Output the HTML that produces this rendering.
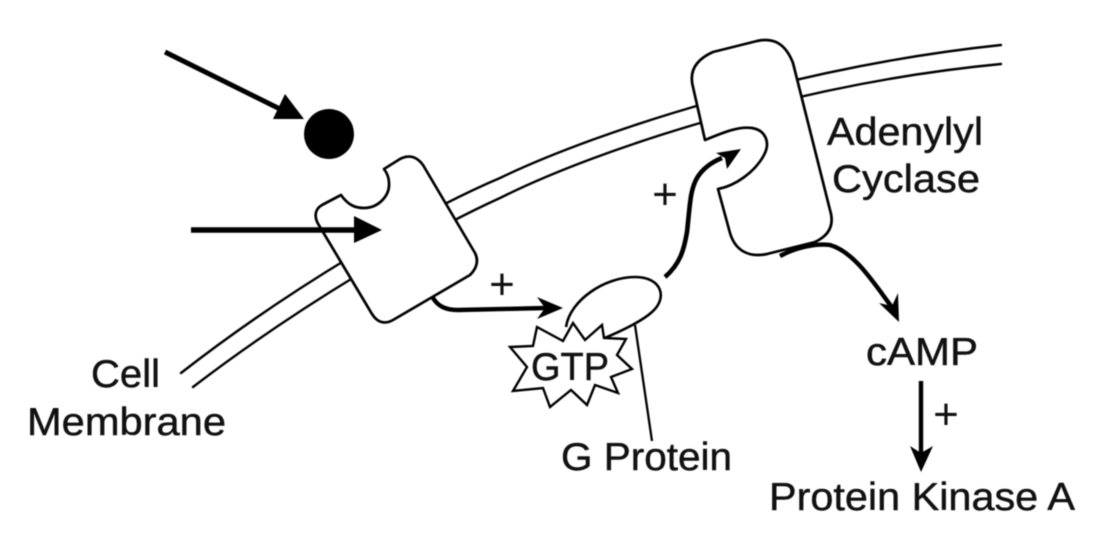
<!DOCTYPE html>
<html>
<head>
<meta charset="utf-8">
<style>
html,body{margin:0;padding:0;background:#fff;width:1105px;height:533px;overflow:hidden}
svg{display:block;filter:blur(0.5px)}
text{font-family:"Liberation Sans",sans-serif;fill:#111;stroke:#111;stroke-width:0.45px}
text.p{stroke:none}
</style>
</head>
<body>
<svg width="1105" height="533" viewBox="0 0 1105 533" xmlns="http://www.w3.org/2000/svg">
<rect width="1105" height="533" fill="#fff"/>
<!-- membrane -->
<g fill="none" stroke="#000" stroke-width="2.4" stroke-linecap="round">
<path d="M181 373 C290 288 420 212 500 178 C600 130 800 66 1001 45"/>
<path d="M193 387 C300 305 425 232 500 198 C600 148 800 83 1001 64"/>
</g>
<!-- receptor -->
<path d="M341 195 C348 205 355 208 364 208 C378 208 390 196 389 183 C389 177 387 173 384 169 L400 159 C410 154 417 157 423 165 L475 253 C479 261 477 268 470 275 L393 320 C384 325 377 322 372 314 L320 227 C313 217 315 209 322 205 Z" fill="#fff" stroke="#000" stroke-width="2.7" stroke-linejoin="round"/>
<!-- adenylyl cyclase -->
<path d="M705 140 L693 87 C689 72 695 60 713 52 L757 41 C775 37 786 45 793 63 L830 210 C835 226 828 236 815 242 L767 254 C748 258 735 250 730 233 L718 189 C735 186 755 172 764 155 C771 142 765 130 752 128 C738 126 722 133 705 140 Z" fill="#fff" stroke="#000" stroke-width="2.7" stroke-linejoin="round"/>
<!-- G protein -->
<path d="M566 327 C570 300 605 277 635 277 C662 277 668 298 652 312 C640 323 612 335 600 340" fill="#fff" stroke="#000" stroke-width="2.6"/>
<line x1="635" y1="325" x2="652" y2="441" stroke="#000" stroke-width="2.3"/>
<!-- GTP star -->
<polygon points="537,327 563,341 573,323 585,340 602,325 604,338 626,339 617,355 632,369 611,377 618,393 595,385 587,405 571,390 550,407 543,388 513,391 527,367 510,347 533,346" fill="#fff" stroke="#000" stroke-width="2.4" stroke-linejoin="miter"/>
<!-- black arrows -->
<circle cx="329" cy="134" r="25" fill="#000"/>
<line x1="165" y1="52" x2="286" y2="112" stroke="#000" stroke-width="5"/>
<polygon points="285,94 304,119 273,119" fill="#000"/>
<line x1="191" y1="230" x2="356" y2="230" stroke="#000" stroke-width="5.5"/>
<polygon points="354,216 382,230 354,243" fill="#000"/>
<!-- receptor to G protein -->
<path d="M433 298 C438 306 445 310 458 310 L546 308" fill="none" stroke="#000" stroke-width="4.4"/>
<polygon points="537,297 563,308 537,319 545,308" fill="#000"/>
<!-- G protein to AC -->
<path d="M665 277 C680 264 684 250 687 232 C690 205 690 190 697 178 C703 168 712 162 722 158" fill="none" stroke="#000" stroke-width="4.6"/>
<polygon points="741,149 727,169 725,158 716,153" fill="#000"/>
<!-- AC to cAMP -->
<path d="M780 256 C795 248 815 243 830 245 C855 252 875 285 894 310" fill="none" stroke="#000" stroke-width="4.4"/>
<polygon points="899,322 879,303 892,306 898,293" fill="#000"/>
<!-- cAMP to PKA -->
<line x1="921" y1="381" x2="921" y2="456" stroke="#000" stroke-width="4.4"/>
<polygon points="910,446 921,453 933,446 921,472" fill="#000"/>
<!-- labels -->
<text x="827" y="145" font-size="39" textLength="156" lengthAdjust="spacingAndGlyphs">Adenylyl</text>
<text x="832" y="192" font-size="39" textLength="148" lengthAdjust="spacingAndGlyphs">Cyclase</text>
<text x="866" y="365" font-size="39" textLength="112" lengthAdjust="spacingAndGlyphs">cAMP</text>
<text x="769" y="510" font-size="39" textLength="306" lengthAdjust="spacingAndGlyphs">Protein Kinase A</text>
<text x="91" y="387" font-size="39" textLength="69" lengthAdjust="spacingAndGlyphs">Cell</text>
<text x="27" y="435" font-size="39" textLength="199" lengthAdjust="spacingAndGlyphs">Membrane</text>
<text x="561" y="470" font-size="39" textLength="171" lengthAdjust="spacingAndGlyphs">G Protein</text>
<text x="531" y="380" font-size="39" textLength="78" lengthAdjust="spacingAndGlyphs">GTP</text>
<text class="p" x="502" y="299" font-size="44" text-anchor="middle">+</text>
<text class="p" x="665" y="209" font-size="44" text-anchor="middle">+</text>
<text class="p" x="946" y="429" font-size="44" text-anchor="middle">+</text>
</svg>
</body>
</html>
